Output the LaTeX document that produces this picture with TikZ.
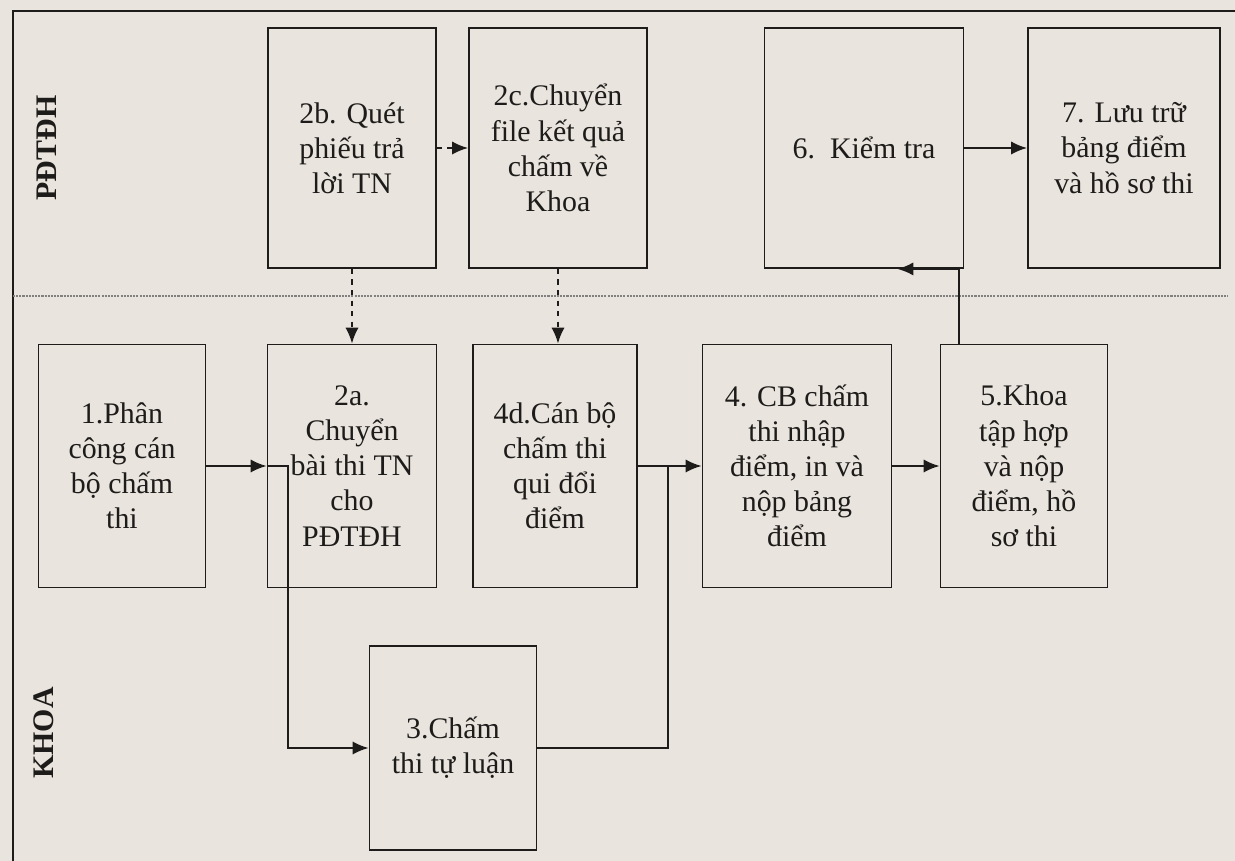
\documentclass[tikz,border=0pt]{standalone}
\usepackage{fontspec}
\setmainfont{Liberation Serif}
\usepackage{xcolor}
\usepackage{tikz}
\usetikzlibrary{arrows.meta, positioning}

\definecolor{paper}{RGB}{233,228,221}
\definecolor{ink}{RGB}{30,28,26}

\tikzset{
  taskbox/.style={draw=ink, line width=1.1pt, align=center, inner sep=2pt,
    text=ink, font=\fontsize{17}{20}\selectfont},
  lanelabel/.style={rotate=90, text=ink, font=\fontsize{17}{20}\selectfont\bfseries},
  flow/.style={draw=ink, line width=1.1pt, ->},
  feed/.style={flow, dashed},
  wire/.style={draw=ink, line width=1.1pt},
}

\begin{document}
\begin{tikzpicture}[x=0.02cm, y=-0.02cm, >={Latex[length=9pt,width=7.5pt]}]
\fill[paper] (0,0) rectangle (1235,861);
\useasboundingbox (0,0) rectangle (1235,861);
% Frame and lanes
\draw[wire] (13,861) -- (13,11) -- (1235,11);
\draw[gray, line width=0.8pt, dash pattern=on 1.2pt off 0.6pt] (13,296) -- (1228,296);
\node[lanelabel] (lane1) at (47,148) {PĐTĐH};
\node[lanelabel] (lane2) at (44,733) {KHOA};
% PDTDH row
\node[taskbox, minimum width=3.36cm, minimum height=4.8cm] (s2b) at (352,148) {2b. Quét\\phiếu trả\\lời TN};
\node[taskbox, minimum width=3.56cm, minimum height=4.8cm] (s2c) at (558,148) {2c.Chuyển\\file kết quả\\chấm về\\Khoa};
\node[taskbox, minimum width=3.98cm, minimum height=4.8cm] (s6) at (864,148) {6.\ \ Kiểm tra};
\node[taskbox, minimum width=3.84cm, minimum height=4.8cm] (s7) at (1124,148) {7. Lưu trữ\\bảng điểm\\và hồ sơ thi};
% KHOA row
\node[taskbox, minimum width=3.34cm, minimum height=4.86cm] (s1) at (122,466) {1.Phân\\công cán\\bộ chấm\\thi};
\node[taskbox, minimum width=3.38cm, minimum height=4.86cm] (s2a) at (352,466) {2a.\\Chuyển\\bài thi TN\\cho\\PĐTĐH};
\node[taskbox, minimum width=3.28cm, minimum height=4.86cm] (s4d) at (555,466) {4d.Cán bộ\\chấm thi\\qui đổi\\điểm};
\node[taskbox, minimum width=3.78cm, minimum height=4.86cm] (s4) at (797,466) {4. CB chấm\\thi nhập\\điểm, in và\\nộp bảng\\điểm};
\node[taskbox, minimum width=3.34cm, minimum height=4.86cm] (s5) at (1024,466) {5.Khoa\\tập hợp\\và nộp\\điểm, hồ\\sơ thi};
\node[taskbox, minimum width=3.34cm, minimum height=4.08cm] (s3) at (453,748) {3.Chấm\\thi tự luận};
% Connectors
\coordinate (fork) at ([xshift=0.42cm]s2a.west);
\coordinate (merge) at ([xshift=0.6cm]s4d.east);
\draw[flow] (s1.east) -- (s2a.west);
\draw[flow] (s2a.west) -- (fork) |- (s3.west);
\draw[wire] (s3.east) -| (merge);
\draw[feed] (s2b.south) -- (s2a.north);
\draw[feed] (s2b.east) -- (s2c.west);
\draw[feed] (s2c.south) -- (s2c.south |- s4d.north);
\draw[flow] (s4d.east) -- (s4.west);
\draw[flow] (s4.east) -- (s5.west);
\draw[flow] ([xshift=0.38cm]s5.north west) |- ([xshift=-1.34cm]s6.south east);
\draw[flow] (s6.east) -- (s7.west);
\end{tikzpicture}
\end{document}
